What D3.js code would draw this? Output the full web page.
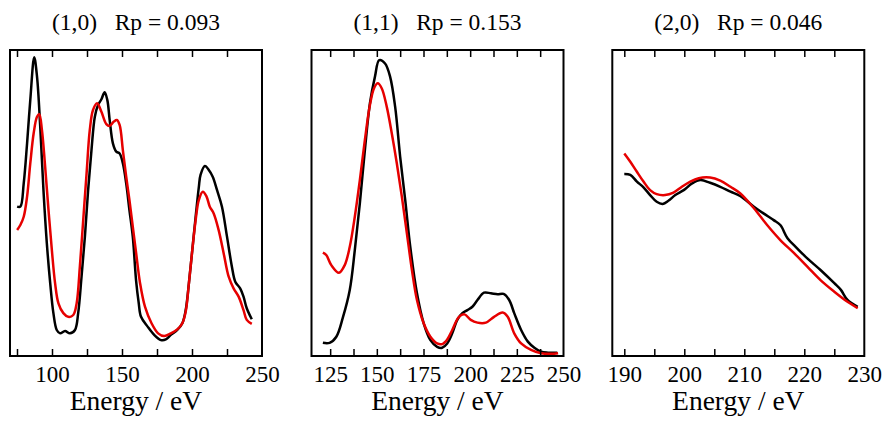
<!DOCTYPE html>
<html>
<head>
<meta charset="utf-8">
<script src="https://cdn.jsdelivr.net/npm/d3@7"></script>
<style>
    body { margin: 0; background: #fff; }
    svg { display: block; font-family: "Liberation Serif", "Times New Roman", serif; }
</style>
</head>
<body>
<div id="chart"></div>
<script>
"use strict";

// ------------------------- Data (energy in eV, intensity in arbitrary units) -------------------------

const titles = ['(1,0)   Rp = 0.093', '(1,1)   Rp = 0.153', '(2,0)   Rp = 0.046'];

const xDomains = [[70, 250], [115, 250], [188, 230]];
const minorTicks = [
    [75, 100, 125, 150, 175, 200, 225],
    [125, 137.5, 150, 162.5, 175, 187.5, 200, 212.5, 225, 237.5],
    [190, 195, 200, 205, 210, 215, 220, 225]
];
const tickLabels = [
    [100, 150, 200, 250],
    [125, 150, 175, 200, 225, 250],
    [190, 200, 210, 220, 230]
];

const expEnergy10 = [75.1, 77.4, 79.8, 82.2, 84.5, 87.3, 89.3, 91.6, 93.9, 96.3, 98.7, 101, 103.4, 105.8, 109.3, 112.8, 116.4, 118.7, 121.1, 123.5, 125.8, 128.2, 130.6, 132.9, 135.3, 137.6, 139.5, 141.2, 143.5, 145.9, 148.3, 150.6, 153, 155.3, 157.7, 160.1, 161.9, 163.6, 168.3, 173, 177.8, 181.3, 184.9, 189.5, 193.1, 195.5, 197.8, 200.2, 202.6, 204.9, 206.1, 209.2, 212, 214.8, 217.9, 221.4, 225, 228.5, 230.9, 234.4, 236.8, 239.1, 242.7];
const expValue10 = [48.8, 48.8, 56.4, 69.5, 83.7, 97.6, 91.3, 74.9, 54.2, 36.9, 23.9, 14, 8.5, 7.4, 8.2, 7.4, 8.5, 14, 25.9, 39, 54.2, 67.3, 78.2, 82, 83.9, 86.2, 83.7, 77.1, 69.5, 66.8, 66.2, 63, 56.4, 47.7, 39, 24.5, 17.5, 12.8, 9.6, 6.9, 5.2, 5.4, 6.9, 8.5, 10.7, 15, 23.8, 34.6, 45.5, 55.3, 59.2, 62.1, 60.8, 58.6, 54.2, 48.8, 39, 29.2, 24.3, 22.1, 19.4, 15.6, 12];
const calcEnergy10 = [75.1, 77.4, 79.8, 82.2, 84.5, 86.9, 89.3, 90.9, 92.8, 95.1, 97.5, 99.9, 102.2, 104.6, 108.1, 111.6, 115.2, 117.6, 119.9, 122.3, 124.7, 127, 129.3, 132.2, 135.3, 138.8, 141.2, 144.2, 146.3, 148.3, 150.6, 153, 155.3, 157.7, 160.1, 162.9, 166.4, 171.1, 175.8, 180.1, 184.9, 189.5, 193.1, 195.5, 197.8, 200.2, 202.6, 204.9, 207.7, 210.4, 212.7, 215.5, 219, 222.6, 226.2, 229.7, 233.3, 236.8, 239.1, 242.7];
const calcValue10 = [41.2, 42.8, 45.5, 52.1, 63, 72.8, 78.2, 79, 73.9, 61.9, 47.7, 34.6, 23.8, 17.2, 14, 12.8, 13.4, 17.2, 29.2, 44.4, 59.7, 73.9, 80.4, 82.6, 79.8, 75.8, 75.2, 76.6, 77.1, 75.5, 67.3, 58.6, 51, 42.3, 33.6, 23.8, 16.1, 10.7, 7.4, 6.5, 7.4, 8.7, 10.7, 14.5, 23.8, 34.6, 44.4, 51, 53.7, 52.1, 48.8, 46.6, 41.2, 33.6, 25.9, 22.1, 19.4, 15, 11.8, 10.5];

const expEnergy11 = [121.1, 124.7, 128.3, 131.9, 135.5, 138.2, 140.9, 143.6, 146.3, 149, 151.3, 154.4, 157.1, 159.8, 162.5, 165.2, 167.9, 171.5, 175.1, 178.7, 182.3, 185, 187.7, 190.4, 193.1, 195.8, 198.5, 201.2, 203.9, 207.4, 211.1, 214.7, 217.9, 220.9, 223.6, 227.3, 230.9, 234.4, 238, 241.7, 246.7];
const expValue11 = [4.3, 4.3, 6.3, 12.8, 21.6, 34.6, 49.9, 67.3, 82.6, 91.3, 96.7, 95.6, 91.3, 81.5, 65.1, 51, 35.7, 20.5, 10.7, 5.2, 3, 2.7, 4.1, 7.4, 11.8, 14, 15, 16.1, 18.3, 20.7, 20.5, 20.2, 20.3, 18.3, 14, 8.5, 4.7, 2.7, 1.4, 1.1, 1.1];
const calcEnergy11 = [121.1, 122.9, 125.6, 129.7, 132.8, 135.5, 138.2, 140.9, 143.6, 146.3, 148.5, 150.5, 152.6, 155.3, 158, 160.7, 163.4, 166.1, 168.8, 171.5, 175.1, 178.7, 182.3, 185, 187.7, 190.4, 194, 197, 200.3, 203.9, 208.4, 212.8, 217.4, 220.1, 223.6, 227.3, 232.6, 238, 243.4, 247.1];
const calcValue11 = [33.8, 33, 29.7, 27.2, 29.7, 35.7, 45.5, 57.5, 70.6, 82, 87.5, 89.1, 87.5, 81.5, 72.8, 63, 52.1, 40.1, 28.1, 18.3, 10.7, 6.3, 4.1, 3.9, 5.4, 8.5, 12.8, 13.6, 11.8, 10.9, 10.9, 12.8, 14.2, 12.8, 7.4, 4.1, 2, 0.9, 0.7, 0.9];

const expEnergy20 = [190, 191, 192.1, 193.2, 194.3, 195.4, 196.4, 197.4, 198.5, 199.9, 201.3, 202.7, 204.3, 206, 207.7, 209.3, 211.6, 213.2, 214.9, 216, 217.2, 218.8, 220.5, 222.7, 225, 226.1, 227.2, 228.9];
const expValue20 = [59.5, 59.2, 57, 55.1, 52.6, 50.4, 49.7, 50.8, 52.6, 54.2, 56.4, 57.5, 56.6, 55.3, 53.7, 52.3, 48.8, 46.6, 44.4, 42.8, 38.5, 35.2, 31.9, 28.1, 23.8, 21.6, 18.3, 16.1];
const calcEnergy20 = [190, 191, 192.1, 193.2, 194.3, 195.4, 196.8, 198.2, 199.6, 201, 202.4, 204.3, 206, 207.7, 209.3, 211.6, 213.8, 216, 218.3, 220.5, 222.7, 225, 227.2, 228.9];
const calcValue20 = [66.2, 63.5, 60.2, 57, 54.2, 52.9, 52.6, 53.4, 55.3, 57, 58.1, 58.3, 57.3, 55.3, 53.2, 48.3, 42.8, 37.9, 33.6, 29.2, 24.8, 21, 17.7, 15.6];

const panels = [
    { exp: d3.zip(expEnergy10, expValue10), calc: d3.zip(calcEnergy10, calcValue10) },
    { exp: d3.zip(expEnergy11, expValue11), calc: d3.zip(calcEnergy11, calcValue11) },
    { exp: d3.zip(expEnergy20, expValue20), calc: d3.zip(calcEnergy20, calcValue20) }
];


// ------------------------- Layout -------------------------

const WIDTH = 887;
const HEIGHT = 422;
const panelLefts = [10, 311.5, 612.3];
const PANEL_WIDTH = 252;
const TOP = 50;
const BOTTOM = 356;
const FONT = '"Liberation Serif", "Times New Roman", serif';

const svg = d3.select('#chart')
    .append('svg')
    .attr('width', WIDTH)
    .attr('height', HEIGHT);

const y = d3.scaleLinear().domain([0, 100]).range([BOTTOM, TOP]);

panels.forEach((panel, i) => renderPanel(panel, i));


// ------------------------- Rendering Helpers -------------------------

function renderPanel(panel, i) {
    const x = d3.scaleLinear()
        .domain(xDomains[i])
        .range([panelLefts[i], panelLefts[i] + PANEL_WIDTH]);

    const line = d3.line()
        .x(d => x(d[0]))
        .y(d => y(d[1]))
        .curve(d3.curveCatmullRom.alpha(0.5));

    const g = svg.append('g');

    g.append('path')
        .datum(panel.exp)
        .attr('d', line)
        .attr('fill', 'none')
        .attr('stroke', '#000')
        .attr('stroke-width', 2.5)
        .attr('stroke-linejoin', 'round');

    g.append('path')
        .datum(panel.calc)
        .attr('d', line)
        .attr('fill', 'none')
        .attr('stroke', '#e60000')
        .attr('stroke-width', 2.5)
        .attr('stroke-linejoin', 'round');

    // inward ticks on top and bottom, no labels
    g.append('g')
        .attr('transform', `translate(0,${BOTTOM})`)
        .call(d3.axisBottom(x).tickValues(minorTicks[i]).tickSize(-7).tickFormat(''))
        .call(styleAxis);

    g.append('g')
        .attr('transform', `translate(0,${TOP})`)
        .call(d3.axisTop(x).tickValues(minorTicks[i]).tickSize(-7).tickFormat(''))
        .call(styleAxis);

    // tick labels
    const labels = g.append('g')
        .attr('transform', `translate(0,${BOTTOM})`)
        .call(d3.axisBottom(x).tickValues(tickLabels[i]).tickSize(0).tickFormat(d3.format('d')));

    labels.attr('font-family', FONT).attr('font-size', 23);
    labels.select('.domain').remove();
    labels.selectAll('line').remove();
    labels.selectAll('text')
        .attr('dy', null)
        .attr('y', 26)
        .attr('fill', '#000')
        .style('font-family', FONT)
        .style('font-size', '23px');

    // frame
    g.append('rect')
        .attr('x', panelLefts[i])
        .attr('y', TOP)
        .attr('width', PANEL_WIDTH)
        .attr('height', BOTTOM - TOP)
        .attr('fill', 'none')
        .attr('stroke', '#000')
        .attr('stroke-width', 2);

    const centre = panelLefts[i] + PANEL_WIDTH / 2;

    g.append('text')
        .attr('x', centre)
        .attr('y', 30)
        .attr('text-anchor', 'middle')
        .style('font-family', FONT)
        .style('font-size', '23.5px')
        .style('white-space', 'pre')
        .text(titles[i]);

    g.append('text')
        .attr('x', centre)
        .attr('y', 410)
        .attr('text-anchor', 'middle')
        .style('font-family', FONT)
        .style('font-size', '27.5px')
        .text('Energy / eV');
}

function styleAxis(axis) {
    axis.select('.domain').remove();
    axis.selectAll('line')
        .attr('stroke', '#000')
        .attr('stroke-width', 1.5);
}
</script>
</body>
</html>
